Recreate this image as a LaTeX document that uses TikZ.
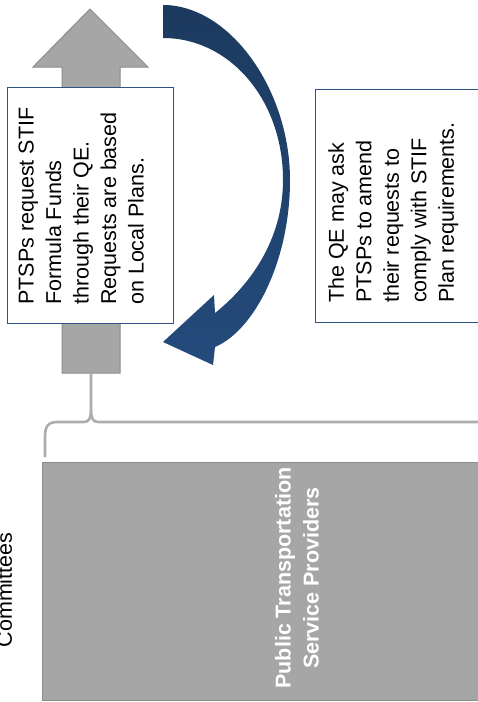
\documentclass[tikz,border=0pt]{standalone}
\usepackage{fontspec}
\setmainfont{Liberation Sans}
\definecolor{grayfill}{HTML}{A6A6A6}
\definecolor{grayline}{HTML}{8C8C8C}
\definecolor{bracegray}{HTML}{ADADAD}
\definecolor{boxblue}{HTML}{2E5283}
\definecolor{arrowtop}{HTML}{1C3A5E}
\definecolor{arrowbot}{HTML}{244B7C}
\begin{document}
\begin{tikzpicture}[x=1pt,y=-1pt,
  boxline/.style={draw=boxblue, line width=1.3pt, fill=white, inner sep=0pt, anchor=north west},
  txt/.style={font=\fontsize{21.5}{27.5}\selectfont, align=left, rotate=90, inner sep=0pt, anchor=north west},
  bracestyle/.style={draw=bracegray, line width=2.6pt}]
\useasboundingbox (0,0) rectangle (478,702);
\clip (0,0) rectangle (478,702);
\fill[white] (0,0) rectangle (478,702);

% gray upward arrow
\filldraw[fill=grayfill, draw=grayline, line width=1pt]
  (90,9) -- (148,67) -- (120,67) -- (120,373) -- (62,373) -- (62,67) -- (33,67) -- cycle;
\coordinate (shaftbot) at (91,373);

% left text box
\node[boxline, minimum width=166pt, minimum height=236pt] (req) at (7,87) {};
\node[txt] (reqtext) at (18.5,305) {PTSPs request STIF\\Formula Funds\\through their QE.\\Requests are based\\on Local Plans.};

% right text box
\node[boxline, minimum width=175pt, minimum height=233pt] (qe) at (315,89) {};
\node[txt] (qetext) at (328,303) {The QE may ask\\PTSPs to amend\\their requests to\\comply with STIF\\Plan requirements.};

% curved blue arrow
\shade[top color=arrowtop, bottom color=arrowbot]
  (163,5) .. controls (230,5) and (290,90) .. (290,180)
  .. controls (290,260) and (255,330) .. (215,347)
  -- (213,365) -- (163,342) -- (214,295) -- (215,313)
  .. controls (250,285) and (283,240) .. (283,180)
  .. controls (283,100) and (230,38) .. (163,38) -- cycle;

% brace
\coordinate (brk) at (91,410);
\draw[bracestyle] (45,457) -- (45,437) .. controls (45,426) and (48,422) .. (58,422)
  -- (84,422) .. controls (89,422) and (91,418) .. (brk) -- (shaftbot);
\draw[bracestyle] (brk) .. controls (91,418) and (93,422) .. (98,422) -- (480,422);

% providers box
\node[draw=grayline, fill=grayfill, line width=1.2pt, minimum width=450pt, minimum height=238pt, inner sep=0pt, anchor=north west] (ptsp) at (42,462) {};
\node[rotate=90, text=white, font=\bfseries\fontsize{21.5}{28}\selectfont, align=center, inner sep=0pt] (ptsptext) at (297,578) {Public Transportation\\Service Providers};

% clipped label
\node[rotate=90, anchor=base, font=\fontsize{21.5}{27.5}\selectfont, inner sep=0pt] (comm) at (12,590) {Committees};
\end{tikzpicture}
\end{document}
